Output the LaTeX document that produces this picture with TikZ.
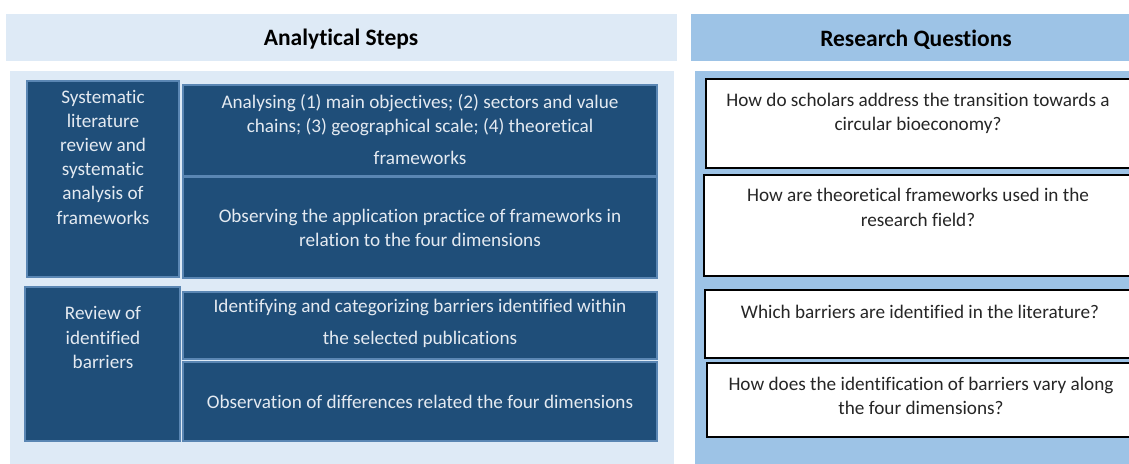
\documentclass[tikz,border=0pt]{standalone}
\usepackage{fontspec}
\setmainfont{Carlito}[Ligatures=NoCommon]
\definecolor{hdrL}{HTML}{DEEAF6}
\definecolor{panL}{HTML}{DEEAF6}
\definecolor{hdrR}{HTML}{9DC3E6}
\definecolor{darkbox}{HTML}{1F4E79}
\definecolor{darkedge}{HTML}{5A86B3}
\definecolor{boxtext}{HTML}{E4EAF1}
\begin{document}
\begin{tikzpicture}[x=1pt,y=-1pt,
  area/.style={draw=none,inner sep=0pt,outer sep=0pt,anchor=north west},
  dbox/.style={draw=darkedge,line width=1.4pt,fill=darkbox,inner sep=0pt,outer sep=0pt,anchor=north west},
  qbox/.style={draw=black,line width=2.2pt,fill=white,inner sep=0pt,outer sep=0pt,anchor=north west},
  hdrtext/.style={font=\fontsize{23.5}{27}\selectfont\bfseries,text=black},
  dtext/.style={font=\fontsize{19.2}{24.2}\selectfont,text=boxtext,align=center,inner sep=0pt},
  qtext/.style={font=\fontsize{19.2}{24.2}\selectfont,text=black!85,align=center,inner sep=0pt}]
\useasboundingbox (0,0) rectangle (1129,463);
\begin{scope}
\clip (0,0) rectangle (1129,463);
\fill[white] (0,0) rectangle (1129,463);
% headers
\node[area,fill=hdrL,minimum width=671pt,minimum height=47pt] (hl) at (6,14) {};
\node[hdrtext] (hlt) at (341,39.5) {Analytical Steps};
\node[area,fill=hdrR,minimum width=445pt,minimum height=47pt] (hr) at (691,14) {};
\node[hdrtext] (hrt) at (916,39.5) {Research Questions};
% panels
\node[area,fill=panL,minimum width=664pt,minimum height=395pt] (pl) at (10,71) {};
\node[area,fill=hdrR,minimum width=440pt,minimum height=395pt] (pr) at (695,71) {};
% dark boxes
\node[dbox,minimum width=152pt,minimum height=196pt] (a) at (27,81) {};
\node[dbox,minimum width=474pt,minimum height=91pt] (b) at (183,85) {};
\node[dbox,minimum width=474pt,minimum height=101pt] (c) at (183,177) {};
\node[dbox,minimum width=155pt,minimum height=154pt] (d) at (25,287) {};
\node[dbox,minimum width=474pt,minimum height=67pt] (e) at (183,292) {};
\node[dbox,minimum width=474pt,minimum height=79pt] (f) at (183,362) {};
\node[dtext] (at) at (103,157) {Systematic\\literature\\review and\\systematic\\analysis of\\frameworks};
\node[dtext] (bt) at (420,129.5) {Analysing (1) main objectives; (2) sectors and value\\chains; (3) geographical scale; (4) theoretical\\[8pt]frameworks};
\node[dtext] (ct) at (420,228) {Observing the application practice of frameworks in\\relation to the four dimensions};
\node[dtext] (dt) at (103,337.5) {Review of\\identified\\barriers};
\node[dtext] (et) at (420,323.5) {Identifying and categorizing barriers identified within\\[8pt]the selected publications};
\node[dtext] (ft) at (420,401.5) {Observation of differences related the four dimensions};
% question boxes
\node[qbox,minimum width=440pt,minimum height=89pt] (q1) at (706,79) {};
\node[qbox,minimum width=440pt,minimum height=101pt] (q2) at (704,175) {};
\node[qbox,minimum width=440pt,minimum height=68pt] (q3) at (705,290) {};
\node[qbox,minimum width=440pt,minimum height=74pt] (q4) at (707,363) {};
\node[qtext] (q1t) at (918,113.5) {How do scholars address the transition towards a\\circular bioeconomy?};
\node[qtext] (q2t) at (918,207.5) {How are theoretical frameworks used in the\\research field?};
\node[qtext] (q3t) at (920,311.5) {Which barriers are identified in the literature?};
\node[qtext] (q4t) at (921,395.5) {How does the identification of barriers vary along\\the four dimensions?};
\end{scope}
\end{tikzpicture}
\end{document}
